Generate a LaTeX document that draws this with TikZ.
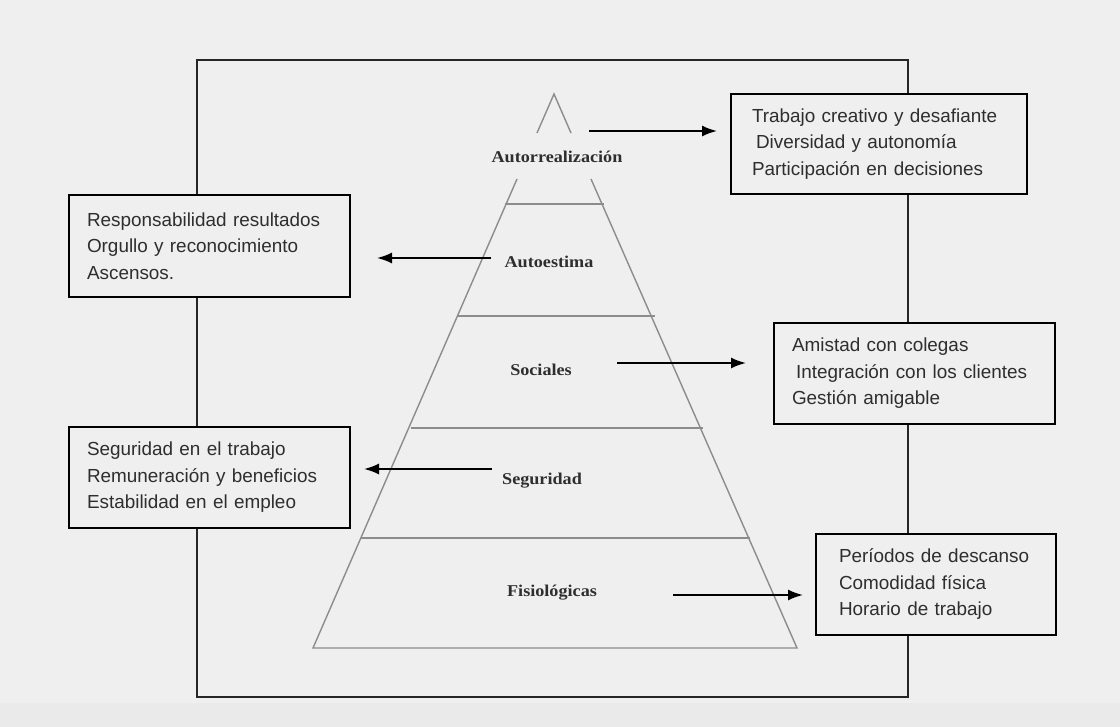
\documentclass[tikz,border=0pt]{standalone}
\usepackage{fontspec}
\setmainfont{Liberation Sans}
\newfontfamily\boxfont{Liberation Sans}
\newfontfamily\levelfont[FakeStretch=1.1]{Liberation Serif}
\usetikzlibrary{arrows.meta}
\definecolor{paper}{HTML}{EFEFEF}
\definecolor{paperlow}{HTML}{EAEAEA}
\definecolor{ink}{HTML}{2E2E2E}
\definecolor{pyr}{HTML}{8C8C8C}
% left indent of a box line
\newcommand\lead[1]{\hspace*{#1pt}}
\tikzset{
  listbox/.style={draw=black, line width=2pt, fill=paper, anchor=north west,
    inner xsep=0pt, inner ysep=0pt, text=ink, align=left,
    font=\boxfont\fontsize{18.9}{26.5}\selectfont},
  levellabel/.style={text=ink, font=\levelfont\bfseries\fontsize{16.5}{18}\selectfont},
  pyrline/.style={draw=pyr, line width=1.4pt},
  pointer/.style={draw=black, line width=1.8pt, -{Latex[length=15pt,width=11pt]}},
  frameline/.style={draw=black!85, line width=2pt}
}
\begin{document}
\begin{tikzpicture}[x=1pt,y=-1pt]
  % page and bottom band
  \fill[paper] (0,0) rectangle (1120,727);
  \fill[paperlow] (0,703) rectangle (1120,727);
  \useasboundingbox (0,0) rectangle (1120,727);

  % outer frame
  \draw[frameline] (197,60) rectangle (908,697);

  % pyramid outline, open around the top label
  \draw[pyrline] (537,133) -- (554,94) -- (571,133);
  \draw[pyrline] (517,179) -- (313,648) -- (797,648) -- (591,179);
  % level separators
  \draw[pyrline] (505,204) -- (604,204);
  \draw[pyrline] (457,316) -- (655,316);
  \draw[pyrline] (411,428) -- (703,428);
  \draw[pyrline] (361,538) -- (750,538);

  % level names
  \node[levellabel] (l5) at (557,157) {Autorrealización};
  \node[levellabel] (l4) at (549,262) {Autoestima};
  \node[levellabel] (l3) at (541,370) {Sociales};
  \node[levellabel] (l2) at (542,481) {Seguridad};
  \node[levellabel] (l1) at (552,593) {Fisiológicas};

  % example boxes
  \node[listbox, minimum width=296pt, minimum height=100pt, text width=296pt] (b5) at (730,93)
    {\lead{21}Trabajo creativo y desafiante\\\lead{25}Diversidad y autonomía\\\lead{21}Participación en decisiones};
  \node[listbox, minimum width=281pt, minimum height=102pt, text width=281pt] (b4) at (68,194)
    {\lead{18}Responsabilidad resultados\\\lead{18}Orgullo y reconocimiento\\\lead{18}Ascensos.};
  \node[listbox, minimum width=281pt, minimum height=101pt, text width=281pt] (b3) at (773,322)
    {\lead{18}Amistad con colegas\\\lead{22}Integración con los clientes\\\lead{18}Gestión amigable};
  \node[listbox, minimum width=281pt, minimum height=101pt, text width=281pt] (b2) at (68,426)
    {\lead{18}Seguridad en el trabajo\\\lead{18}Remuneración y beneficios\\\lead{18}Estabilidad en el empleo};
  \node[listbox, minimum width=240pt, minimum height=101pt, text width=240pt] (b1) at (815,533)
    {\lead{23}Períodos de descanso\\\lead{23}Comodidad física\\\lead{23}Horario de trabajo};

  % arrow ends
  \coordinate (s5) at (589,131);  \coordinate (e5) at (717,131);
  \coordinate (s4) at (491,258);  \coordinate (e4) at (377,258);
  \coordinate (s3) at (617,363);  \coordinate (e3) at (746,363);
  \coordinate (s2) at (492,469);  \coordinate (e2) at (364,469);
  \coordinate (s1) at (673,595);  \coordinate (e1) at (803,595);
  \draw[pointer] (s5) -- (e5);
  \draw[pointer] (s4) -- (e4);
  \draw[pointer] (s3) -- (e3);
  \draw[pointer] (s2) -- (e2);
  \draw[pointer] (s1) -- (e1);
\end{tikzpicture}
\end{document}
